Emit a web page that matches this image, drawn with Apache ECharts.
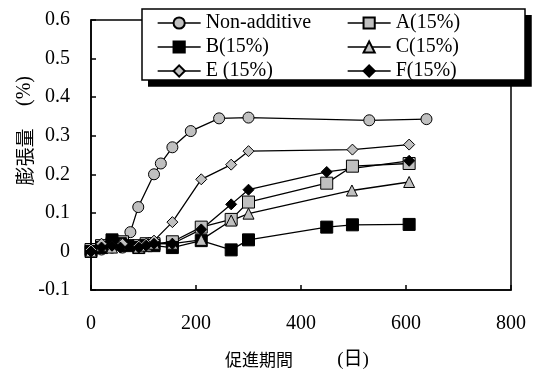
<!DOCTYPE html>
<html>
<head>
<meta charset="utf-8">
<script src="https://cdn.jsdelivr.net/npm/echarts@6/dist/echarts.min.js"></script>
<style>
  html, body { margin: 0; padding: 0; background: #fff; }
  #chart { width: 537px; height: 370px; }
</style>
</head>
<body>
<div id="chart"></div>
<script>
// Expansion (%) against curing period (days) for each additive
const seriesNames = ['Non-additive', 'A(15%)', 'B(15%)', 'C(15%)', 'E (15%)', 'F(15%)'];

const nonDays = [0, 20, 40, 60, 75, 90, 120, 133, 155, 190, 244, 300, 530, 639];
const nonVals = [0, 0.005, 0.01, 0.01, 0.05, 0.115, 0.2, 0.228, 0.27, 0.312, 0.345, 0.347, 0.34, 0.343];

const aDays = [0, 20, 40, 60, 91, 105, 120, 155, 210, 267, 300, 449, 498, 606];
const aVals = [0.005, 0.015, 0.02, 0.025, 0.015, 0.02, 0.02, 0.025, 0.063, 0.083, 0.128, 0.177, 0.221, 0.228];

const bDays = [0, 20, 40, 56, 70, 91, 105, 120, 155, 210, 267, 300, 449, 498, 606];
const bVals = [0, 0.01, 0.03, 0.02, 0.015, 0.01, 0.015, 0.015, 0.01, 0.028, 0.004, 0.03, 0.063, 0.069, 0.07];

const cDays = [0, 20, 40, 56, 91, 105, 120, 155, 210, 267, 300, 497, 606];
const cVals = [0, 0.015, 0.01, 0.02, 0.01, 0.015, 0.02, 0.02, 0.03, 0.08, 0.098, 0.158, 0.18];

const eDays = [0, 20, 40, 60, 91, 105, 120, 155, 210, 267, 300, 498, 606];
const eVals = [0.005, 0.02, 0.015, 0.02, 0.015, 0.02, 0.028, 0.076, 0.187, 0.225, 0.26, 0.264, 0.277];

const fDays = [0, 20, 40, 56, 91, 105, 120, 155, 210, 267, 300, 449, 606];
const fVals = [0, 0.01, 0.015, 0.01, 0.01, 0.015, 0.02, 0.02, 0.057, 0.122, 0.16, 0.206, 0.235];

const xTitleMain = '促進期間';
const xTitleUnit = '(日)';
const yTitleMain = '膨張量';
const yTitleUnit = '(%)';

const SERIF = '"Liberation Serif", "Times New Roman", "Noto Sans CJK JP", serif';
const CJK = '"Noto Sans CJK JP", "Liberation Serif", sans-serif';
const GRAY = '#c0c0c0';
const INK = '#000000';

function pairs(days, vals) {
  return days.map((d, i) => [d, vals[i]]);
}

function lineSeries(name, days, vals, symbol, size, fill) {
  return {
    name: name,
    type: 'line',
    data: pairs(days, vals),
    symbol: symbol,
    symbolSize: size,
    showAllSymbol: true,
    animation: false,
    z: 5,
    lineStyle: { color: INK, width: 1.3 },
    itemStyle: { color: fill, borderColor: INK, borderWidth: 1 }
  };
}

const chart = echarts.init(document.getElementById('chart'), null, { renderer: 'canvas' });

const legendCommon = {
  orient: 'vertical',
  top: 13,
  padding: 0,
  itemGap: 4,
  itemWidth: 43,
  itemHeight: 14,
  z: 20,
  selectedMode: false,
  textStyle: { fontFamily: SERIF, fontSize: 20, color: INK },
  lineStyle: { color: INK, width: 1.3 }
};

// legend frame and its offset shadow
const boxX = 142, boxY = 9, boxW = 383, boxH = 71, shadowOff = 6;

chart.setOption({
  animation: false,
  backgroundColor: '#fff',
  grid: {
    left: 91, right: 26, top: 20, bottom: 80,
    show: true, borderColor: INK, borderWidth: 1.5, backgroundColor: 'transparent'
  },
  xAxis: {
    type: 'value',
    min: 0, max: 800, interval: 200,
    axisLine: { onZero: false, lineStyle: { color: INK, width: 1.5 } },
    axisTick: { inside: true, length: 5, lineStyle: { color: INK, width: 1.5 } },
    axisLabel: { margin: 24, fontFamily: SERIF, fontSize: 20, color: INK },
    splitLine: { show: false }
  },
  yAxis: {
    type: 'value',
    min: -0.1, max: 0.6, interval: 0.1,
    axisLine: { show: true, lineStyle: { color: INK, width: 1.5 } },
    axisTick: { show: true, inside: true, length: 5, lineStyle: { color: INK, width: 1.5 } },
    axisLabel: { margin: 21, fontFamily: SERIF, fontSize: 20, color: INK },
    splitLine: { show: false }
  },
  legend: [
    Object.assign({}, legendCommon, { left: 157, data: [seriesNames[0], seriesNames[2], seriesNames[4]] }),
    Object.assign({}, legendCommon, { left: 347, data: [seriesNames[1], seriesNames[3], seriesNames[5]] })
  ],
  graphic: {
    elements: [
      {
        id: 'legendShadow',
        type: 'rect', z: 9,
        shape: { x: boxX + shadowOff, y: boxY + shadowOff, width: boxW + 0.75, height: boxH + 0.75 },
        style: { fill: INK }
      },
      {
        id: 'legendBox',
        type: 'rect', z: 10,
        shape: { x: boxX, y: boxY, width: boxW, height: boxH },
        style: { fill: '#fff', stroke: INK, lineWidth: 1.5 }
      },
      {
        id: 'xTitleMain',
        type: 'text', z: 9, x: 259, y: 360,
        style: { text: xTitleMain, font: '17px ' + CJK, fill: INK, align: 'center', verticalAlign: 'middle' }
      },
      {
        id: 'xTitleUnit',
        type: 'text', z: 9, x: 353, y: 360,
        style: { text: xTitleUnit, font: '19px ' + SERIF, fill: INK, align: 'center', verticalAlign: 'middle' }
      },
      {
        id: 'yTitleMain',
        type: 'text', z: 9, x: 25, y: 157, rotation: Math.PI / 2,
        style: { text: yTitleMain, font: '19px ' + CJK, fill: INK, align: 'center', verticalAlign: 'middle' }
      },
      {
        id: 'yTitleUnit',
        type: 'text', z: 9, x: 25, y: 91, rotation: Math.PI / 2,
        style: { text: yTitleUnit, font: '20px ' + SERIF, fill: INK, align: 'center', verticalAlign: 'middle' }
      }
    ]
  },
  series: [
    lineSeries(seriesNames[0], nonDays, nonVals, 'circle', 11, GRAY),
    lineSeries(seriesNames[1], aDays, aVals, 'rect', 12, GRAY),
    lineSeries(seriesNames[2], bDays, bVals, 'rect', 12, INK),
    lineSeries(seriesNames[3], cDays, cVals, 'triangle', 11, GRAY),
    lineSeries(seriesNames[4], eDays, eVals, 'diamond', 11, GRAY),
    lineSeries(seriesNames[5], fDays, fVals, 'diamond', 11, INK)
  ]
});
</script>
</body>
</html>
